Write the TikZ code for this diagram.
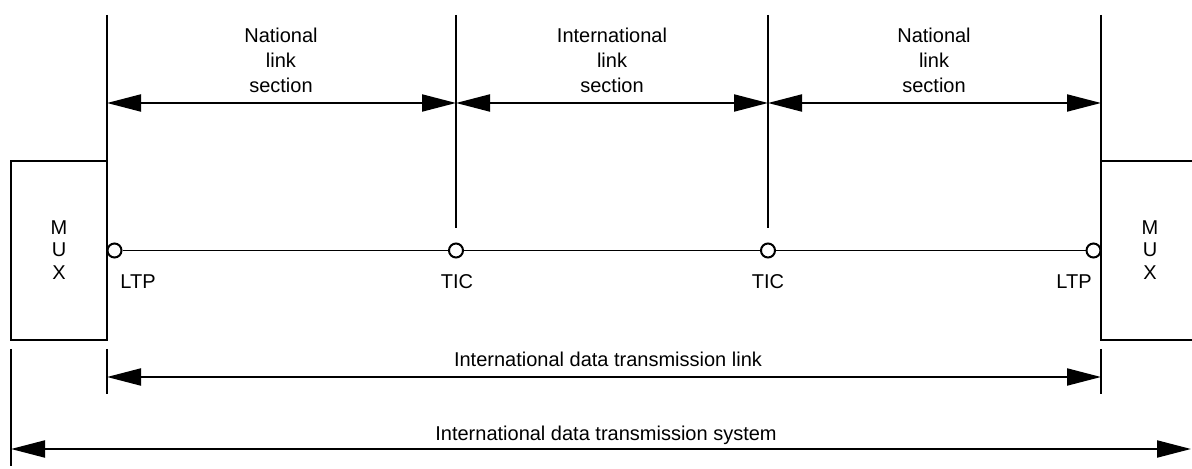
\documentclass[tikz,border=0pt]{standalone}
\usepackage{fontspec}
\setmainfont{Liberation Sans}
\usetikzlibrary{arrows.meta}
\begin{document}
\begin{tikzpicture}[x=0.5pt,y=-0.5pt,
  lbl/.style={font=\fontsize{10}{12.5}\selectfont, align=center, inner sep=0},
  muxtext/.style={font=\fontsize{10}{11.25}\selectfont, align=center, inner sep=0},
  box/.style={draw, line width=1pt, minimum width=48pt, minimum height=89.5pt, inner sep=0, outer sep=0},
  port/.style={circle, draw, line width=1pt, fill=white, minimum size=7pt, inner sep=0},
  dim/.style={line width=1pt, {Triangle[length=17pt,width=8.5pt]}-{Triangle[length=17pt,width=8.5pt]}},
  tick/.style={line width=1pt},
  wire/.style={line width=0.6pt}]
\useasboundingbox (0,0) rectangle (1192,469);

% MUX boxes
\node[box] (mux1) at (59,250.5) {};
\node[box] (mux2) at (1149,250.5) {};
\node[muxtext] (m1t) at (59,250) {M\\U\\X};
\node[muxtext] (m2t) at (1150,250) {M\\U\\X};

% vertical reference lines
\coordinate (t1) at (107,15);
\coordinate (t2) at (456,15);
\coordinate (t3) at (768,15);
\coordinate (t4) at (1101,15);
\coordinate (b2) at (456,228);
\coordinate (b3) at (768,228);
\draw[tick] (t1) -- (mux1.north east);
\draw[tick] (t2) -- (b2);
\draw[tick] (t3) -- (b3);
\draw[tick] (t4) -- (mux2.north west);

% ports
\node[port] (p1) at (114.5,250.5) {};
\node[port] (p2) at (456,250.5) {};
\node[port] (p3) at (768,250.5) {};
\node[port] (p4) at (1093.5,250.5) {};
\draw[wire] (p1) -- (p2);
\draw[wire] (p2) -- (p3);
\draw[wire] (p3) -- (p4);

\node[lbl] (l1) at (138,282) {LTP};
\node[lbl] (l2) at (457,282) {TIC};
\node[lbl] (l3) at (768,282) {TIC};
\node[lbl] (l4) at (1074,282) {LTP};

% upper dimension arrows
\coordinate (a1) at (107,103);
\coordinate (a2) at (456,103);
\coordinate (a3) at (768,103);
\coordinate (a4) at (1101,103);
\draw[dim] (a1) -- (a2);
\draw[dim] (a2) -- (a3);
\draw[dim] (a3) -- (a4);
\node[lbl] (s1) at (281,60) {National\\link\\section};
\node[lbl] (s2) at (612,60) {International\\link\\section};
\node[lbl] (s3) at (934,60) {National\\link\\section};

% lower ticks
\coordinate (k1a) at (107,349);
\coordinate (k1b) at (107,394);
\coordinate (k2a) at (1101,349);
\coordinate (k2b) at (1101,394);
\coordinate (k3a) at (11,349);
\coordinate (k3b) at (11,466);
\draw[tick] (k1a) -- (k1b);
\draw[tick] (k2a) -- (k2b);
\draw[tick] (k3a) -- (k3b);

% lower dimension arrows
\coordinate (d1) at (107,377);
\coordinate (d2) at (1101,377);
\coordinate (e1) at (11,449);
\coordinate (e2) at (1191,449);
\draw[dim] (d1) -- (d2);
\draw[dim] (e1) -- (e2);
\node[lbl, anchor=base] (link) at (608,367) {International data transmission link};
\node[lbl, anchor=base] (sys) at (606,440) {International data transmission system};
\end{tikzpicture}
\end{document}
